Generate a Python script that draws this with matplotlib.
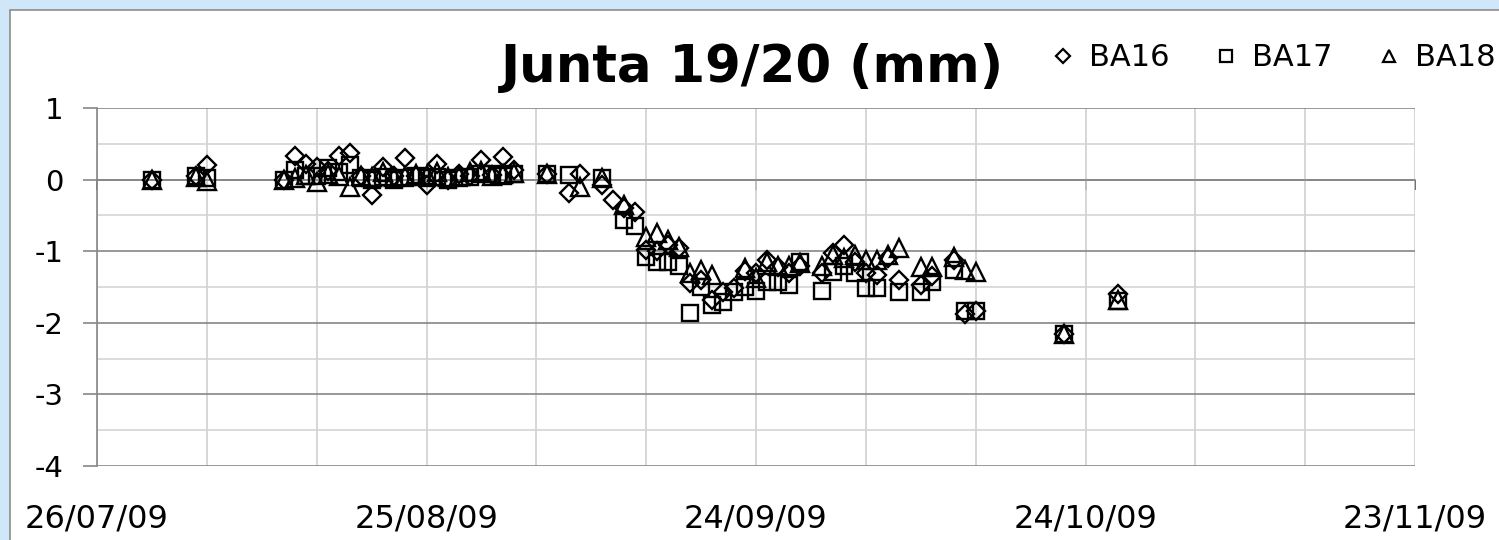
import numpy as np
import pandas as pd
import matplotlib
matplotlib.use("Agg")
import matplotlib.pyplot as plt
from matplotlib.lines import Line2D
from matplotlib.patches import Rectangle


# reading dates and joint opening (mm) for the three gauges
dates = ["31/07/09", "04/08/09", "05/08/09",
         "12/08/09", "13/08/09", "14/08/09", "15/08/09", "16/08/09", "17/08/09",
         "18/08/09", "19/08/09", "20/08/09", "21/08/09", "22/08/09", "23/08/09",
         "24/08/09", "25/08/09", "26/08/09", "27/08/09", "28/08/09", "29/08/09",
         "30/08/09", "31/08/09", "01/09/09", "02/09/09",
         "05/09/09", "07/09/09", "08/09/09", "10/09/09", "11/09/09", "12/09/09",
         "13/09/09", "14/09/09", "15/09/09", "16/09/09", "17/09/09", "18/09/09",
         "19/09/09", "20/09/09", "21/09/09", "22/09/09", "23/09/09", "24/09/09",
         "25/09/09", "26/09/09", "27/09/09", "28/09/09", "30/09/09",
         "01/10/09", "02/10/09", "03/10/09", "04/10/09", "05/10/09", "06/10/09",
         "07/10/09", "09/10/09", "10/10/09", "12/10/09", "13/10/09", "14/10/09",
         "22/10/09", "27/10/09"]

ba16 = [0.0, 0.05, 0.2,
        0.0, 0.33, 0.22, 0.18, 0.12, 0.33,
        0.37, 0.05, -0.22, 0.17, 0.05, 0.30,
        0.05, -0.07, 0.22, 0.0, 0.08, 0.05,
        0.27, 0.07, 0.31, 0.13,
        0.08, -0.19, 0.08, -0.08, -0.28, -0.40,
        -0.45, -0.98, -1.00, -0.92, -0.96, -1.45,
        -1.40, -1.68, -1.57, -1.52, -1.27, -1.30,
        -1.12, -1.22, -1.30, -1.20, -1.30,
        -1.03, -0.92, -1.15, -1.30, -1.33, -1.10,
        -1.40, -1.47, -1.35, -1.12, -1.88, -1.83,
        -2.15, -1.60]

ba17 = [0.0, 0.05, 0.02,
        0.0, 0.13, 0.05, 0.05, 0.16, 0.10,
        0.20, 0.02, 0.0, 0.03, 0.0, 0.02,
        0.05, 0.02, 0.03, 0.0, 0.02, 0.03,
        0.08, 0.08, 0.05, 0.08,
        0.08, 0.06, np.nan, 0.02, np.nan, -0.56,
        -0.65, -1.08, -1.15, -1.15, -1.21, -1.87,
        -1.50, -1.75, -1.71, -1.57, -1.50, -1.55,
        -1.43, -1.43, -1.47, -1.15, -1.55,
        -1.29, -1.20, -1.30, -1.52, -1.52, np.nan,
        -1.57, -1.57, -1.43, -1.26, -1.83, -1.83,
        -2.15, -1.70]

ba18 = [0.0, 0.03, -0.02,
        0.0, 0.02, 0.06, -0.03, 0.08, 0.05,
        -0.10, 0.05, 0.03, 0.10, 0.03, 0.05,
        0.08, 0.07, 0.10, 0.03, 0.05, 0.10,
        0.12, 0.05, 0.08, 0.09,
        0.08, np.nan, -0.10, 0.02, np.nan, -0.36,
        np.nan, -0.80, -0.75, -0.84, -0.94, -1.30,
        -1.26, -1.33, np.nan, np.nan, -1.24, -1.37,
        -1.15, -1.20, -1.20, -1.17, -1.20,
        -1.05, -1.10, -1.05, -1.12, -1.12, -1.05,
        -0.96, -1.22, -1.22, -1.08, -1.26, -1.29,
        -2.15, -1.68]

tick_labels = ["26/07/09", "25/08/09", "24/09/09", "24/10/09", "23/11/09"]

x = pd.to_datetime(dates, format="%d/%m/%y")
ticks = pd.to_datetime(tick_labels, format="%d/%m/%y")

fig = plt.figure(figsize=(14.99, 5.4), dpi=100)
fig.patch.set_facecolor("#cfe7f9")
fig.patches.append(Rectangle((10 / 1499, -0.1), 1.2, 1.1 - 10 / 540,
                             transform=fig.transFigure, facecolor="white",
                             edgecolor="#8c8c8c", linewidth=1.2, zorder=-5))

ax = fig.add_axes([97 / 1499, 1 - 466 / 540, 1318 / 1499, 358 / 540])
ax.set_facecolor("none")

style = dict(linestyle="none", mfc="none", mec="black", mew=1.7, clip_on=False)
ax.plot(x, ba16, marker="D", ms=9.5, **style, zorder=3)
ax.plot(x, ba17, marker="s", ms=11, **style, zorder=3)
ax.plot(x, ba18, marker="^", ms=12.5, **style, zorder=3)

ax.set_xlim(ticks[0], ticks[-1])
ax.set_ylim(-4, 1)
ax.set_yticks([1, 0, -1, -2, -3, -4])
ax.set_yticklabels(["1", "0", "-1", "-2", "-3", "-4"])
ax.set_yticks(np.arange(-3.5, 1, 1), minor=True)

ax.set_xticks(ticks)
ax.set_xticklabels(tick_labels)
ax.set_xticks(pd.date_range(ticks[0], ticks[-1], freq="10D"), minor=True)

ax.grid(axis="y", which="major", color="#868686", linewidth=1.2)
ax.grid(axis="y", which="minor", color="#d4d4d4", linewidth=1.2)
ax.grid(axis="x", which="both", color="#cfcfcf", linewidth=1.2)
ax.set_axisbelow(True)

for s in ["top", "right", "bottom"]:
    ax.spines[s].set_visible(False)
ax.spines["left"].set_color("#868686")
ax.spines["left"].set_linewidth(1.2)

ax.tick_params(axis="y", which="major", length=10, width=1.2, color="#868686",
               pad=14, labelsize=21)
ax.tick_params(axis="y", which="minor", length=0)
ax.tick_params(axis="x", which="both", length=0, pad=27, labelsize=23)

# x axis crosses at zero, with small tick marks pointing down
sec = ax.secondary_xaxis(0.8)
sec.set_xticks(ticks)
sec.set_xticklabels([""] * len(ticks))
sec.tick_params(axis="x", direction="in", length=7, width=1.2, color="#555555",
                labeltop=False, labelbottom=False)
for s in sec.spines.values():
    s.set_color("#868686")
    s.set_linewidth(1.2)

fig.text(0.502, 1 - 68 / 540, "Junta 19/20 (mm)", ha="center", va="center",
         fontsize=37, fontweight="bold", family="DejaVu Sans")

handles = [Line2D([], [], linestyle="none", marker="D", ms=7, mfc="none", mec="black", mew=1.6),
           Line2D([], [], linestyle="none", marker="s", ms=8, mfc="none", mec="black", mew=1.6),
           Line2D([], [], linestyle="none", marker="^", ms=9, mfc="none", mec="black", mew=1.6)]
fig.legend(handles, ["BA16", "BA17", "BA18"], loc="center right",
           bbox_to_anchor=(1.016, 1 - 58 / 540), ncol=3, frameon=False,
           fontsize=22, handlelength=0.8, handletextpad=0.45, columnspacing=1.45)

fig.savefig("out.png", dpi=100, facecolor=fig.get_facecolor())
